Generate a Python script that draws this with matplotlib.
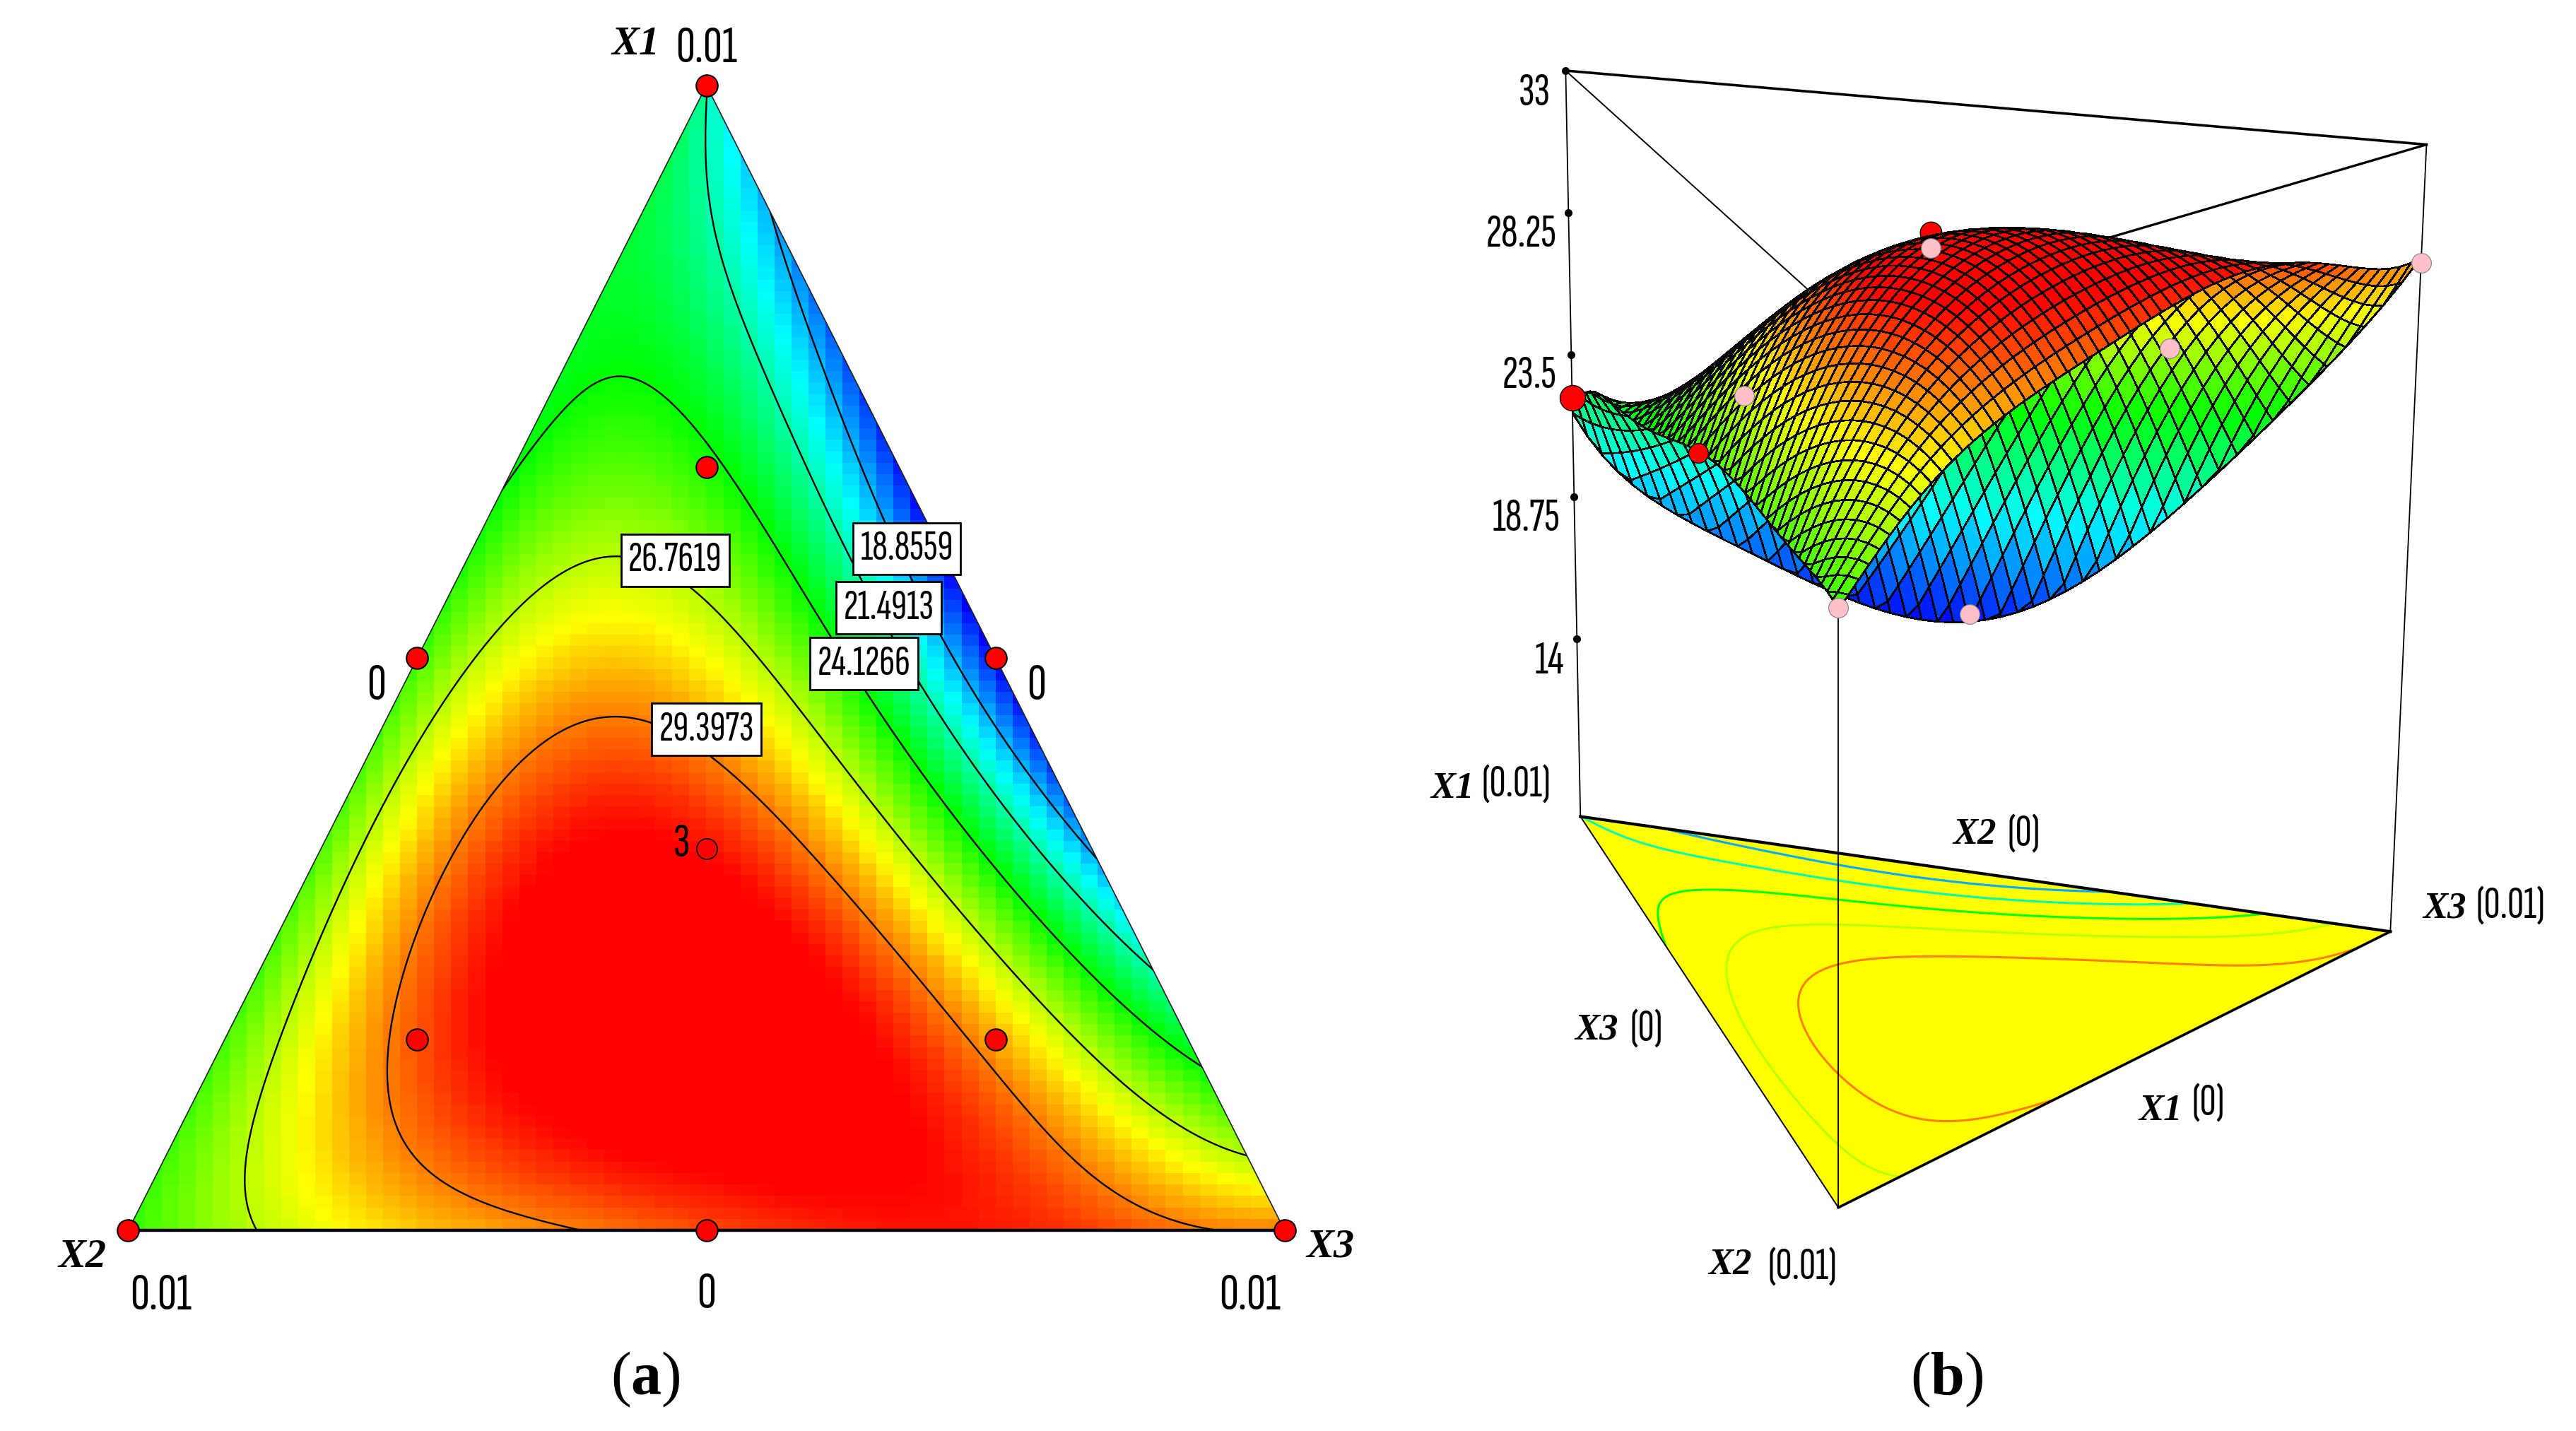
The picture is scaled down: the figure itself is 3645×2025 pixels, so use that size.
import numpy as np
import matplotlib
matplotlib.use('Agg')
import matplotlib.pyplot as plt
from matplotlib.colors import LinearSegmentedColormap, Normalize
from matplotlib.collections import PolyCollection
from matplotlib.patches import Polygon

plt.rcParams['mathtext.fontset'] = 'custom'
plt.rcParams['mathtext.bf'] = 'Liberation Serif:bold'
plt.rcParams['mathtext.rm'] = 'Liberation Serif'

NARROW = ['Sofia Sans Extra Condensed', 'Roboto Condensed', 'Liberation Sans']
SERIF = ['Liberation Serif']

# response, rows from X1 (top) down to the X2-X3 side
row0 = [21.6]
row1 = [23.1, 18.9]
row2 = [23.5, 22.7, 17.9]
row3 = [23.9, 24.7, 22.2, 17.0]
row4 = [24.4, 26.3, 25.9, 22.4, 16.1]
row5 = [25.0, 27.9, 28.4, 26.3, 22.8, 16.2]
row6 = [25.1, 28.85, 30.3, 29.7, 27.4, 23.6, 17.1]
row7 = [25.3, 28.8, 31.0, 31.6, 31.0, 28.3, 24.9, 19.7]
row8 = [25.2, 28.4, 30.9, 31.6, 31.7, 31.5, 29.0, 26.3, 22.2]
row9 = [24.9, 28.0, 29.7, 31.0, 31.5, 31.6, 31.5, 30.0, 27.9, 25.6]
row10 = [24.9, 26.3, 28.3, 28.7, 29.2, 30.2, 30.6, 30.6, 30.3, 29.8, 29.4]
rows = [row0, row1, row2, row3, row4, row5, row6, row7, row8, row9, row10]

levels = [18.8559, 21.4913, 24.1266, 26.7619, 29.3973]
level_labels = ['18.8559', '21.4913', '24.1266', '26.7619', '29.3973']
# colour stops of the map
stop_z = [16.0, 20.2, 24.1, 27.8, 31.0]
stop_col = ['#0000ff', '#00ffff', '#00ff00', '#ffff00', '#ff0000']

# design points (X1, X2, X3)
design_a = [(1, 0, 0), (0, 1, 0), (0, 0, 1), (.5, .5, 0), (.5, 0, .5), (0, .5, .5),
            (2/3, 1/6, 1/6), (1/6, 2/3, 1/6), (1/6, 1/6, 2/3)]
centre = (1/3, 1/3, 1/3)

pink_pts = [(1/3, 1/3, 1/3), (2/3, 1/6, 1/6), (1/6, 1/6, 2/3), (0, 1, 0), (.5, 0, .5), (0, 0, 1)]
pink_z = [30.7, 24.15, 27.1, 24.86, 16.45, 29.25]
red_pts = [(1, 0, 0), (.5, .5, 0)]
red_z = [22.07, 24.9]
red_centre_z = 31.2

z_ticks = [33, 28.25, 23.5, 18.75, 14]
z_tick_labels = ['33', '28.25', '23.5', '18.75', '14']

# layout, in the coordinates of the whole sheet
L1, L2, L3 = (430, 52), (78, 749), (782, 749)
B1, B2, B3 = (962, 497), (1119, 735), (1455, 567)
T1, T2, T3 = (953, 43), (1119, 193), (1477, 88)
z_base, z_top = 8.07, 33.0
far_x1 = 1.1


def terms(b1, b2, b3, deg=6):
    out = []
    for i in range(deg + 1):
        for j in range(deg + 1 - i):
            out.append(b1**i * b2**j * b3**(deg - i - j))
    return out


pts, vals = [], []
for k, row in enumerate(rows):
    for j, v in enumerate(row):
        pts.append((1 - k / 10, (k - j) / 10, j / 10))
        vals.append(v)
pts = np.array(pts)
A = np.array(terms(pts[:, 0], pts[:, 1], pts[:, 2])).T
coef = np.linalg.lstsq(A, np.array(vals), rcond=None)[0]


def surf(b1, b2, b3):
    return sum(c * t for c, t in zip(coef, terms(b1, b2, b3)))


def left_bary(x, y):
    b1 = (L2[1] - y) / (L2[1] - L1[1])
    b3 = (x - L2[0]) / (L3[0] - L2[0]) - b1 / 2
    return b1, 1 - b1 - b3, b3


def mix(b, p1, p2, p3):
    return (b[0] * p1[0] + b[1] * p2[0] + b[2] * p3[0],
            b[0] * p1[1] + b[1] * p2[1] + b[2] * p3[1])


def persp(b):
    # X1 is the far corner of the box
    w = far_x1 * b[0] + b[1] + b[2]
    return far_x1 * b[0] / w, b[1] / w, b[2] / w


def to_3d(b, z):
    t = (np.asarray(z) - z_base) / (z_top - z_base)
    b = persp(b)
    bx, by = mix(b, B1, B2, B3)
    tx, ty = mix(b, T1, T2, T3)
    return bx + t * (tx - bx), by + t * (ty - by)


norm = Normalize(stop_z[0], stop_z[-1])
cmap = LinearSegmentedColormap.from_list('rb', [(norm(z), c) for z, c in zip(stop_z, stop_col)])

fig = plt.figure(figsize=(36.45, 20.25), dpi=100)
ax = fig.add_axes([0, 0, 1, 1])
ax.axis('off')

# (a) blocky map
xe = np.linspace(L2[0], L3[0], 69)
ye = np.linspace(L1[1], L2[1], 101)
xc, yc = np.meshgrid((xe[:-1] + xe[1:]) / 2, (ye[:-1] + ye[1:]) / 2)
tri_a = Polygon([L1, L2, L3], closed=True, fc='none', ec='#202020', lw=1.2, zorder=3)
ax.add_patch(tri_a)
im = ax.imshow(surf(*left_bary(xc, yc)), cmap=cmap, norm=norm, interpolation='nearest',
               extent=(L2[0], L3[0], L2[1], L1[1]), aspect='auto', zorder=1)
im.set_clip_path(tri_a)
ax.set_xlim(0, 1568)
ax.set_ylim(871, 0)

gx, gy = np.meshgrid(np.linspace(L2[0], L3[0], 500), np.linspace(L1[1], L2[1], 500))
gb = left_bary(gx, gy)
gz = surf(*gb)
cs = ax.contour(gx, gy, gz, levels=levels, colors='k', linewidths=1.7, zorder=2)
cs.set_clip_path(tri_a)
ax.plot([L2[0], L3[0]], [L2[1], L3[1]], color='k', lw=3.2, zorder=3)

label_xy = [(552, 334), (541, 370), (526, 404), (411, 341), (430, 444)]
for (x, y), s in zip(label_xy, level_labels):
    ax.text(x, y, s, ha='center', va='center', family=NARROW, fontsize=44, zorder=5,
            bbox=dict(boxstyle='square,pad=0.17', fc='white', ec='k', lw=2))

for b in design_a:
    x, y = mix(b, L1, L2, L3)
    ax.plot(x, y, 'o', ms=22, mfc='#ff0000', mec='k', mew=1.5, zorder=6)
x, y = mix(centre, L1, L2, L3)
ax.plot(x, y, 'o', ms=21, mfc='#ff0000', mec='k', mew=1.2, zorder=6)
ax.text(415, 514, '3', ha='center', va='center', family=NARROW, fontsize=50, zorder=6)


def ital(x, y, s, size=42):
    ax.text(x, y, s, ha='center', va='center', family=SERIF, style='italic', weight='bold', fontsize=size)


def narrow(x, y, s, size=54):
    ax.text(x, y, s, ha='center', va='center', family=NARROW, fontsize=size)


ital(387, 27, 'X1')
ital(50, 765, 'X2')
ital(810, 759, 'X3')
narrow(430, 30, '0.01')
narrow(229, 418, '0')
narrow(631, 418, '0')
narrow(98, 789, '0.01')
narrow(430, 788, '0')
narrow(761, 789, '0.01')

# (b) box behind the surface
ax.plot([T1[0], T3[0]], [T1[1], T3[1]], color='k', lw=2.6, zorder=1)
ax.plot([T1[0], T2[0]], [T1[1], T2[1]], color='k', lw=1.4, zorder=1)
ax.plot([T3[0], T2[0]], [T3[1], T2[1]], color='k', lw=2.4, zorder=1)
ax.plot([T1[0], B1[0]], [T1[1], B1[1]], color='k', lw=1.3, zorder=1)
ax.plot([T3[0], B3[0]], [T3[1], B3[1]], color='k', lw=1.3, zorder=1)

tri_b = Polygon([B1, B2, B3], closed=True, fc='#ffff00', ec='none', zorder=1.2)
ax.add_patch(tri_b)
bx, by = mix(persp(gb), B1, B2, B3)
cs_b = ax.contour(bx, by, gz, levels=levels, colors=[cmap(norm(v)) for v in levels],
                  linewidths=2.2, zorder=1.3)
cs_b.set_clip_path(tri_b)
ax.plot([B1[0], B3[0]], [B1[1], B3[1]], color='k', lw=3, zorder=1.4)
ax.plot([B2[0], B3[0]], [B2[1], B3[1]], color='k', lw=2.6, zorder=1.4)
ax.plot([B1[0], B2[0]], [B1[1], B2[1]], color='k', lw=1.4, zorder=1.4)
ax.plot([T2[0], B2[0]], [T2[1], B2[1]], color='k', lw=1.3, zorder=1.5)

for v in z_ticks:
    x, y = to_3d((1, 0, 0), v)
    ax.plot(x, y, 'o', ms=7, color='k', zorder=1.6)
tick_xy = [(934, 57), (926, 143), (931, 229), (929, 316), (943, 403)]
for (x, y), s in zip(tick_xy, z_tick_labels):
    narrow(x, y, s, 48)

x, y = to_3d(centre, red_centre_z)
ax.plot(x, y, 'o', ms=22, mfc='#ff0000', mec='k', mew=1.0, zorder=1.7)

# mesh: square grid of the map plane cut at the triangle
ny, nx = 52, 56
vv = np.linspace(0, 1, ny + 1)
ss = np.linspace(-1, 1, nx + 1)
polys, cols, depth = [], [], []
for i in range(ny):
    for j in range(nx):
        corners = []
        for v, s in ((vv[i], ss[j]), (vv[i], ss[j + 1]), (vv[i + 1], ss[j + 1]), (vv[i + 1], ss[j])):
            w = 1 - v
            s2 = min(max(s, -w), w)
            corners.append((v, (w - s2) / 2, (w + s2) / 2))
        c = np.array(corners)
        if abs(c[0, 2] - c[1, 2]) + abs(c[3, 2] - c[2, 2]) < 1e-9:
            continue
        zc = surf(c[:, 0], c[:, 1], c[:, 2])
        px, py = to_3d((c[:, 0], c[:, 1], c[:, 2]), zc)
        polys.append(np.column_stack([px, py]))
        cols.append(cmap(norm(zc.mean())))
        depth.append(mix(persp(c.mean(axis=0)), B1, B2, B3)[1])
order = np.argsort(depth)
mesh = PolyCollection([polys[i] for i in order], facecolors=[cols[i] for i in order],
                      edgecolors='k', linewidths=1.2, zorder=2, antialiased=False)
ax.add_collection(mesh)

for b, v in zip(pink_pts, pink_z):
    x, y = to_3d(b, v)
    ax.plot(x, y, 'o', ms=20, mfc='#ffc0c8', mec='#808080', mew=0.8, zorder=4)
for b, v, ms in zip(red_pts, red_z, (26, 20)):
    x, y = to_3d(b, v)
    ax.plot(x, y, 'o', ms=ms, mfc='#ff0000', mec='k', mew=1.0, zorder=4)

ital(884, 480, 'X1', 38)
narrow(923, 478, '(0.01)', 46)
ital(1202, 508, 'X2', 38)
narrow(1232, 508, '(0)', 46)
ital(1488, 553, 'X3', 38)
narrow(1528, 552, '(0.01)', 46)
ital(972, 627, 'X3', 38)
narrow(1002, 627, '(0)', 46)
ital(1315, 676, 'X1', 38)
narrow(1344, 672, '(0)', 46)
ital(1053, 770, 'X2', 38)
narrow(1097, 772, '(0.01)', 46)

ax.text(393, 840, r'($\mathbf{a}$)', ha='center', va='center', family=SERIF, fontsize=62)
ax.text(1185, 840, r'($\mathbf{b}$)', ha='center', va='center', family=SERIF, fontsize=62)

fig.savefig('out.png', dpi=100, facecolor='white')
